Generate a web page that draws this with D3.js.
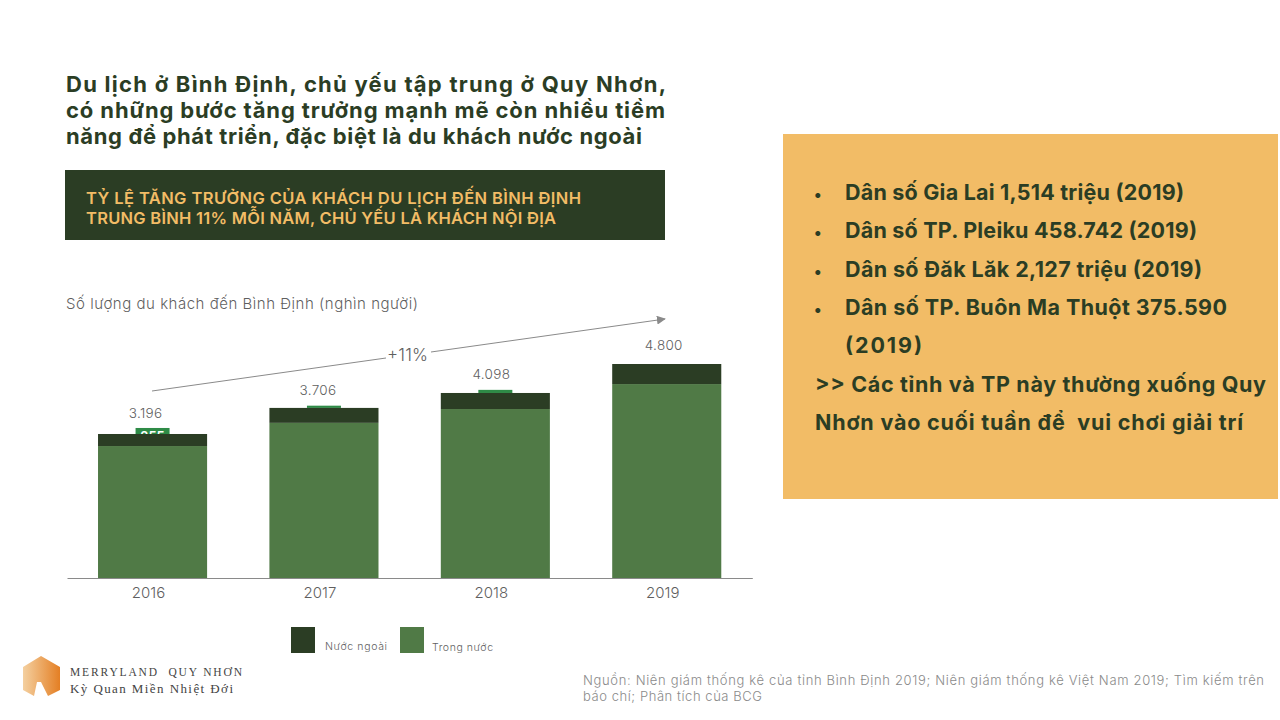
<!DOCTYPE html>
<html lang="vi"><head><meta charset="utf-8">
<script src="https://cdn.jsdelivr.net/npm/d3@7"></script>
<style>html,body{margin:0;background:#fff}svg{display:block}text{font-family:Inter,"Open Sans",sans-serif}</style>
</head><body><svg id="c" width="1280" height="720"></svg>
<script>
const years=["2016","2017","2018","2019"];
const domestic=[2960,3480,3790,4350];
const foreign=[270,335,360,450];
const totalLabels=["3.196","3.706","4.098","4.800"];
const tabHeights=[135,50,70,0];
const tabLabels=["255","","",""];
const headline=["Du lịch ở Bình Định, chủ yếu tập trung ở Quy Nhơn,","có những bước tăng trưởng mạnh mẽ còn nhiều tiềm","năng để phát triển, đặc biệt là du khách nước ngoài"];
const banner=["TỶ LỆ TĂNG TRƯỞNG CỦA KHÁCH DU LỊCH ĐẾN BÌNH ĐỊNH","TRUNG BÌNH 11% MỖI NĂM, CHỦ YẾU LÀ KHÁCH NỘI ĐỊA"];
const notes=["Dân số Gia Lai 1,514 triệu (2019)","Dân số TP. Pleiku 458.742 (2019)","Dân số Đăk Lăk 2,127 triệu (2019)","Dân số TP. Buôn Ma Thuột 375.590","(2019)",">> Các tỉnh và TP này thường xuống Quy","Nhơn vào cuối tuần để  vui chơi giải trí"];
const noteBullets=[1,1,1,1,0,0,0];
const noteIndent=[1,1,1,1,1,0,0];
const source=["Nguồn: Niên giám thống kê của tỉnh Bình Định 2019; Niên giám thống kê Việt Nam 2019; Tìm kiếm trên","báo chí; Phân tích của BCG"];
const DARK="#2b3d24",GREEN="#507a46",TAB="#2e8b47",GREY="#5f5f5f";
const svg=d3.select("#c");
const T=(x,y,s,size,fill,w,len,anchor)=>{const t=svg.append("text").attr("x",x).attr("y",y).text(s)
  .attr("font-size",size).attr("fill",fill).attr("font-weight",w||400).attr("text-anchor",anchor||"start").attr("xml:space","preserve");
  if(len) t.attr("textLength",len).attr("lengthAdjust","spacing");return t;};

const headLen=[600,599,576];
headline.forEach((s,i)=>T(66,[92,118,144][i],s,22,DARK,700,headLen[i]));
svg.append("rect").attr("x",65).attr("y",170).attr("width",600).attr("height",70).attr("fill",DARK);
const banLen=[495,470];
banner.forEach((s,i)=>T(86,[204,224][i],s,16.5,"#f2bc66",600,banLen[i]));

svg.append("rect").attr("x",783).attr("y",134).attr("width",495).attr("height",365).attr("fill","#f2bc66");
const noteLen=[339,352,357,382,77,451,428];
notes.forEach((s,i)=>{const y=200+i*38.33;
  if(noteBullets[i]) T(814,y,"•",16,DARK,700);
  T(noteIndent[i]?845:815,y,s,21.5,DARK,700,noteLen[i]);});

T(66,309,"Số lượng du khách đến Bình Định (nghìn người)",15,GREY,300,352);

const x=d3.scaleBand().domain(years).range([67,752.3]).paddingInner(.3636).paddingOuter(.181);
const y=d3.scaleLinear().domain([0,4800]).range([578,364]);
const rows=years.map((yr,i)=>({yr,domestic:domestic[i],foreign:foreign[i],label:totalLabels[i],tab:tabHeights[i],tabLabel:tabLabels[i]}));
const stack=d3.stack().keys(["domestic","foreign"])(rows);
const colors={domestic:GREEN,foreign:DARK};

const tabW=34;
const tabs=rows.filter(d=>d.tab);
svg.selectAll("rect.tab").data(tabs).join("rect").attr("class","tab")
  .attr("x",d=>x(d.yr)+x.bandwidth()/2-tabW/2).attr("width",tabW)
  .attr("y",d=>y(d.domestic+d.foreign+d.tab)).attr("height",d=>y(0)-y(d.tab)).attr("fill",TAB);
svg.selectAll("text.tabl").data(tabs.filter(d=>d.tabLabel)).join("text").attr("class","tabl")
  .attr("x",d=>x(d.yr)+x.bandwidth()/2).attr("y",441).attr("text-anchor","middle")
  .attr("font-size",13).attr("font-weight",600).attr("fill","#fff").text(d=>d.tabLabel);

svg.selectAll("g.s").data(stack).join("g").attr("class","s").attr("fill",d=>colors[d.key])
  .selectAll("rect").data(d=>d).join("rect")
  .attr("x",d=>x(d.data.yr)).attr("width",x.bandwidth())
  .attr("y",d=>y(d[1])).attr("height",d=>y(d[0])-y(d[1]));

const ax=svg.append("g").attr("transform","translate(0,578)").call(d3.axisBottom(x).tickSize(0).tickPadding(9));
ax.select(".domain").attr("stroke","#8a8a8a").attr("stroke-width",1);
ax.selectAll("text").attr("font-size",15).attr("fill",GREY).attr("dx",-4).attr("font-family","Inter").attr("font-weight",300);

const labelY=[418,395,379,350];
const labelDx=[-7,-6,-4,-3];
svg.selectAll("text.tot").data(rows).join("text").attr("class","tot")
  .attr("x",(d,i)=>x(d.yr)+x.bandwidth()/2+labelDx[i]).attr("y",(d,i)=>labelY[i])
  .attr("text-anchor","middle").attr("font-size",13.5).attr("fill",GREY).attr("font-weight",300).attr("letter-spacing",.3).text(d=>d.label);

svg.append("defs").append("marker").attr("id","ah").attr("viewBox","0 0 10 10").attr("refX",9).attr("refY",5)
  .attr("markerWidth",9).attr("markerHeight",9).attr("markerUnits","userSpaceOnUse").attr("orient","auto")
  .append("path").attr("d","M0,0L10,5L0,10Z").attr("fill","#8a8a8a");
svg.append("line").attr("x1",152).attr("y1",391).attr("x2",386).attr("y2",358).attr("stroke","#8a8a8a");
svg.append("line").attr("x1",431).attr("y1",352).attr("x2",665).attr("y2",319).attr("stroke","#8a8a8a").attr("marker-end","url(#ah)");
T(387,361,"+11%",17,GREY,300,41);

[[291,627,DARK,"Nước ngoài",325,650,62],[400,627,GREEN,"Trong nước",432,651,61]].forEach(l=>{
  svg.append("rect").attr("x",l[0]).attr("y",l[1]).attr("width",24).attr("height",26).attr("fill",l[2]);
  T(l[4],l[5],l[3],10.5,GREY,300,l[6]);
});

const g=svg.append("defs").append("linearGradient").attr("id","lg");
g.append("stop").attr("offset",0).attr("stop-color","#f4d0a0");
g.append("stop").attr("offset",1).attr("stop-color","#e47f24");
svg.append("path").attr("d","M41,656L60,667V690L48,696L41,682L37,682L34,696L23,690V667Z").attr("fill","url(#lg)");
[["MERRYLAND  QUY NHƠN",676,11.5,172],["Kỳ Quan Miền Nhiệt Đới",693,13,163]].forEach(r=>{
  T(70,r[1],r[0],r[2],"#444",400,r[3]).style("font-family","'Liberation Serif',serif");
});

const srcLen=[681,179];
source.forEach((s,i)=>T(583,[685,701][i],s,13,"#8a8a8a",300,srcLen[i]));
</script></body></html>
